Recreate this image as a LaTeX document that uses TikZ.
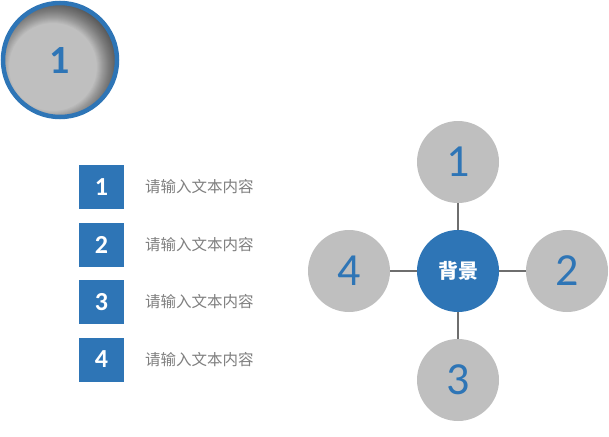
\documentclass[tikz,border=0pt]{standalone}
\usepackage{fontspec}
\setmainfont{Carlito}
\newfontfamily\cjk{Noto Sans CJK SC}
\definecolor{mblue}{HTML}{2E75B6}
\definecolor{cgray}{HTML}{BFBFBF}
\definecolor{lgray}{HTML}{6E6E6E}
\definecolor{tgray}{HTML}{7F7F7F}
\tikzset{
  numsq/.style={fill=mblue, minimum width=45pt, minimum height=44pt, inner sep=0pt, text=white, font=\fontsize{26}{28}\selectfont\bfseries},
  itemtext/.style={anchor=west, inner sep=0pt, text=tgray, font=\cjk\fontsize{15.5}{18}\selectfont},
  gcirc/.style={circle, fill=cgray, minimum size=82pt, inner sep=0pt, text=mblue, font=\fontsize{46}{50}\selectfont},
  bcirc/.style={circle, fill=mblue, minimum size=82pt, inner sep=0pt, text=white, font=\cjk\bfseries\fontsize{20}{22}\selectfont},
  link/.style={draw=lgray, line width=2pt}
}
\begin{document}
\begin{tikzpicture}[x=1pt,y=-1pt]
\useasboundingbox (0,0) rectangle (609,436);
% top-left badge
\begin{scope}
  \clip (60,60) circle (57);
  \fill[cgray] (60,60) circle (57);
  \foreach \r in {44,45,...,68}{
    \fill[black, opacity=0.03, even odd rule] (60,60) circle (60) (53,67) circle (\r);
  }
\end{scope}
\draw[mblue, line width=4.5pt] (60,60) circle (57);
\node[text=mblue, font=\fontsize{40}{44}\selectfont\bfseries] (badge) at (60,61) {1};
% list
\node[numsq] (s1) at (101.5,187) {1};
\node[numsq] (s2) at (101.5,245) {2};
\node[numsq] (s3) at (101.5,302) {3};
\node[numsq] (s4) at (101.5,359.5) {4};
\node[itemtext] (t1) at (145,187) {请输入文本内容};
\node[itemtext] (t2) at (145,245) {请输入文本内容};
\node[itemtext] (t3) at (145,302) {请输入文本内容};
\node[itemtext] (t4) at (145,359.5) {请输入文本内容};
% hub
\node[gcirc] (c1) at (458,162) {1};
\node[gcirc] (c2) at (567,271) {2};
\node[gcirc] (c3) at (458,380) {3};
\node[gcirc] (c4) at (349,271) {4};
\node[bcirc] (hub) at (458,271) {背景};
\draw[link] (hub) -- (c1);
\draw[link] (hub) -- (c2);
\draw[link] (hub) -- (c3);
\draw[link] (hub) -- (c4);
\end{tikzpicture}
\end{document}
